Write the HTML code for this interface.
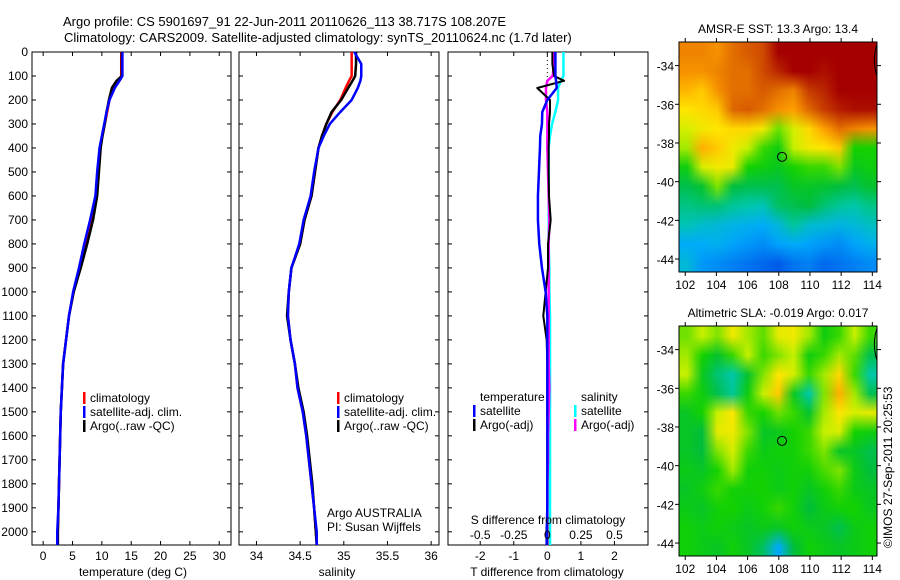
<!DOCTYPE html>
<html><head><meta charset="utf-8">
<style>
html,body{margin:0;padding:0;background:#fff;}
#wrap{position:relative;width:900px;height:580px;overflow:hidden;font-family:"Liberation Sans",sans-serif;}
svg{position:absolute;left:0;top:0;}
canvas{position:absolute;image-rendering:auto;}
text{font-family:"Liberation Sans",sans-serif;font-size:12px;fill:#000;}
</style></head>
<body>
<div id="wrap">
<canvas id="sstMap" width="13" height="12" style="left:679px;top:42px;width:198px;height:230px"></canvas>
<canvas id="slaMap" width="13" height="12" style="left:679px;top:326px;width:198px;height:230px"></canvas>
<svg id="fig" width="900" height="580"></svg>
</div>
<script>
// ---------- data ----------
const depths = [0,50,100,120,150,200,250,300,350,400,500,600,700,800,900,1000,1100,1200,1300,1400,1500,1600,1700,1800,1900,2000,2055];
const tempClim = [13.3,13.3,13.3,12.8,12.0,11.3,10.9,10.5,10.1,9.7,9.4,9.1,8.3,7.3,6.3,5.2,4.4,3.9,3.4,3.2,3.0,2.9,2.8,2.7,2.6,2.5,2.5];
const tempSat  = [13.5,13.5,13.5,13.0,12.2,11.3,10.8,10.4,10.0,9.6,9.2,8.9,8.0,7.0,6.1,5.1,4.4,3.9,3.4,3.2,3.0,2.9,2.8,2.7,2.6,2.4,2.4];
const tempArgo = [13.4,13.4,13.4,12.5,11.7,11.2,10.8,10.5,10.1,9.8,9.5,9.2,8.5,7.5,6.4,5.2,4.4,3.9,3.4,3.2,3.0,2.9,2.8,2.7,2.6,2.5,2.5];
const salClim = [35.09,35.09,35.09,35.06,35.02,34.96,34.87,34.80,34.75,34.71,34.67,34.63,34.55,34.50,34.40,34.37,34.36,34.39,34.44,34.47,34.53,34.57,34.60,34.63,34.66,34.68,34.69];
const salSat  = [35.12,35.20,35.20,35.19,35.16,35.09,34.96,34.84,34.77,34.71,34.66,34.62,34.54,34.49,34.40,34.37,34.36,34.39,34.44,34.47,34.53,34.57,34.60,34.63,34.66,34.69,34.69];
const salArgo = [35.14,35.14,35.13,35.10,35.05,34.97,34.86,34.80,34.75,34.71,34.67,34.63,34.55,34.50,34.40,34.37,34.35,34.39,34.44,34.48,34.54,34.58,34.61,34.64,34.66,34.68,34.69];
const dTSat  = [0.24,0.24,0.24,0.26,0.28,0.0,-0.15,-0.16,-0.21,-0.22,-0.25,-0.28,-0.28,-0.24,-0.16,-0.05,0,0,0,0,0,0,0,0,0,-0.02,-0.02];
const dTArgo = [0.15,0.15,0.2,0.5,-0.3,0.08,0.08,0.05,0.05,0.04,0.04,0.05,0.1,0.02,0.02,-0.05,-0.12,-0.02,0,0,0,0,0,0,0,0,0];
const dSSat  = [0.12,0.12,0.12,0.10,0.08,0.08,0.06,0.035,0.02,0.01,0.01,0.01,0.01,0.01,0.015,0.015,0.02,0.02,0.02,0.02,0.02,0.02,0.02,0.02,0.02,0.02,0.02];
const dSArgo = [0.05,0.05,0.04,0.0,-0.01,-0.01,0,0,0,0,0.005,0.01,0.015,0.01,0.01,0.01,0.01,0.01,0.01,0.015,0.01,0.005,0.005,0,0,0,0];
const depthTicks = [0,100,200,300,400,500,600,700,800,900,1000,1100,1200,1300,1400,1500,1600,1700,1800,1900,2000];
const tempTicks = [0,5,10,15,20,25,30];
const salTicks = [34,34.5,35,35.5,36];
const salTickLabels = ["34","34.5","35","35.5","36"];
const dTTicks = [-2,-1,0,1,2];
const dSTicks = [-0.5,-0.25,0,0.25,0.5];
const dSTickLabels = ["-0.5","-0.25","0","0.25","0.5"];
const lonTicks = [102,104,106,108,110,112,114];
const latTicks = [-34,-36,-38,-40,-42,-44];
const argoLon = 108.207, argoLat = -38.717;
const sstGrid = [
[.82,.82,.80,.85,.88,.90,1,1,1,1,1,1,1],
[.80,.80,.82,.85,.85,.90,.95,1,1,.98,1,1,1],
[.75,.72,.80,.85,.85,.88,.85,.82,.92,.95,1,1,1],
[.68,.70,.72,.86,.88,.85,.80,.78,.86,.92,.96,.98,.98],
[.62,.66,.68,.70,.70,.66,.55,.62,.70,.78,.85,.82,.80],
[.58,.76,.72,.66,.60,.52,.48,.60,.66,.68,.72,.50,.50],
[.48,.62,.66,.65,.50,.48,.46,.50,.52,.52,.56,.46,.48],
[.40,.44,.56,.42,.40,.40,.40,.45,.45,.44,.42,.40,.44],
[.34,.36,.36,.32,.30,.28,.38,.40,.42,.36,.32,.30,.34],
[.28,.24,.22,.20,.18,.16,.22,.32,.24,.22,.20,.22,.26],
[.16,.16,.18,.14,.12,.10,.14,.16,.14,.12,.10,.14,.18],
[.22,.12,.10,.08,.06,.04,.02,.06,.08,.04,.06,.08,.10]];
const slaGrid = [
[.55,.60,.56,.66,.58,.54,.64,.66,.58,.48,.52,.60,.52],
[.58,.50,.44,.52,.60,.52,.56,.60,.48,.52,.58,.54,.40],
[.60,.46,.36,.30,.44,.56,.68,.62,.52,.58,.70,.52,.30],
[.52,.48,.40,.32,.48,.60,.72,.46,.30,.56,.76,.58,.40],
[.45,.50,.60,.68,.52,.50,.55,.52,.44,.58,.68,.62,.64],
[.45,.42,.64,.66,.56,.45,.46,.50,.52,.60,.62,.50,.48],
[.45,.42,.56,.62,.52,.47,.49,.49,.52,.56,.45,.45,.40],
[.47,.45,.50,.58,.49,.49,.47,.49,.49,.53,.56,.47,.42],
[.45,.48,.52,.49,.49,.50,.47,.49,.45,.49,.52,.47,.45],
[.47,.45,.49,.50,.47,.49,.52,.49,.42,.47,.49,.50,.46],
[.49,.47,.49,.47,.45,.47,.45,.49,.47,.45,.40,.47,.49],
[.49,.47,.45,.49,.45,.38,.15,.42,.49,.47,.45,.47,.49]];

// ---------- helpers ----------
const NS="http://www.w3.org/2000/svg";
const svg=document.getElementById('fig');
function el(tag,attrs,parent){const e=document.createElementNS(NS,tag);for(const k in attrs)e.setAttribute(k,attrs[k]);(parent||svg).appendChild(e);return e;}
function txt(x,y,s,anchor,size,name){const t=el('text',{x:x,y:y,'text-anchor':anchor||'start'});if(size)t.style.fontSize=size+'px';t.textContent=s;


return t;}
const Y0=52, Y1=545, DMAX=2055;
const yD=d=>Y0+(d/DMAX)*(Y1-Y0);
function xScale(l,r,vmin,vmax){return v=>l+(v-vmin)/(vmax-vmin)*(r-l);}

function panel(l,r,name){
  const g=el('g',{});
  
  
  el('rect',{x:l,y:Y0,width:r-l,height:Y1-Y0,fill:'none',stroke:'#000','stroke-width':1},g);
  depthTicks.forEach(d=>{const y=yD(d);
    el('line',{x1:l,x2:l+4,y1:y,y2:y,stroke:'#000'},g);
    el('line',{x1:r-4,x2:r,y1:y,y2:y,stroke:'#000'},g);});
  return g;
}
function xticks(g,l,r,sx,ticks){ticks.forEach(v=>{const x=sx(v);
  el('line',{x1:x,x2:x,y1:Y1,y2:Y1-4,stroke:'#000'},g);
  el('line',{x1:x,x2:x,y1:Y0,y2:Y0+4,stroke:'#000'},g);});}
function prof(g,vals,sx,color,w,name){
  const pts=depths.map((d,i)=>sx(vals[i])+','+yD(d));
  const p=el('polyline',{points:pts.join(' '),fill:'none',stroke:color,'stroke-width':w||2.5,'stroke-linejoin':'round'},g);
  
  
}

// titles
txt(63,26,'Argo profile: CS 5901697_91 22-Jun-2011 20110626_113 38.717S 108.207E','start',13,'title-line-1');
txt(64,42,'Climatology: CARS2009. Satellite-adjusted climatology: synTS_20110624.nc (1.7d later)','start',13,'title-line-2');

depthTicks.forEach(d=>txt(28,yD(d)+4,String(d),'end',12,'depth-tick-label'));

// panel 1 temperature
const sT=xScale(32,231,-1.9,32);
const g1=panel(32,231,'temperature-panel');
xticks(g1,32,231,sT,tempTicks);
tempTicks.forEach(v=>txt(sT(v),560,String(v),'middle',12,'temp-tick-label'));
txt(133,576,'temperature (deg C)','middle',12,'temp-axis-title');
prof(g1,tempClim,sT,'#f00',2.5,'temp-climatology-line');
prof(g1,tempArgo,sT,'#000',2.5,'temp-argo-line');
prof(g1,tempSat,sT,'#00f',2.5,'temp-satellite-line');

// panel 2 salinity
const sS=xScale(239,439,33.8,36.09);
const g2=panel(239,439,'salinity-panel');
xticks(g2,239,439,sS,salTicks);
salTicks.forEach((v,i)=>txt(sS(v),560,salTickLabels[i],'middle',12,'sal-tick-label'));
txt(337,576,'salinity','middle',12,'sal-axis-title');
prof(g2,salClim,sS,'#f00',2.5,'sal-climatology-line');
prof(g2,salArgo,sS,'#000',2.5,'sal-argo-line');
prof(g2,salSat,sS,'#00f',2.5,'sal-satellite-line');
txt(327,517,'Argo AUSTRALIA','start',12,'institution-label');
txt(327,531,'PI: Susan Wijffels','start',12,'pi-label');

function legend(x,y,items,name){
  const g=el('g',{});
  
  
  items.forEach((it,i)=>{const yy=y+i*14;
    if(it[0])el('rect',{x:x,y:yy-10,width:2.5,height:12,fill:it[0]},g);
    const t=txt(x+7,yy,it[1],'start',12,'legend-entry');g.appendChild(t);});
}
legend(83,402,[['#f00','climatology'],['#00f','satellite-adj. clim.'],['#000','Argo(..raw -QC)']],'temp-legend');
legend(337,402,[['#f00','climatology'],['#00f','satellite-adj. clim.'],['#000','Argo(..raw -QC)']],'sal-legend');

// panel 3 differences
const sD=xScale(448,648,-2.96,3.0);
const sDS=v=>sD(v*4);
const g3=panel(448,648,'difference-panel');
xticks(g3,448,648,sD,dTTicks);
dTTicks.forEach(v=>txt(sD(v),560,String(v),'middle',12,'dt-tick-label'));
dSTicks.forEach((v,i)=>txt(sDS(v),539,dSTickLabels[i],'middle',12,'ds-tick-label'));
txt(548,524,'S difference from climatology','middle',12,'ds-axis-title');
txt(547,576,'T difference from climatology','middle',12,'dt-axis-title');
el('line',{x1:sD(0),x2:sD(0),y1:Y0,y2:yD(150),stroke:'#000','stroke-dasharray':'1,3'},g3);
prof(g3,dSSat,sDS,'#0ff',2.5,'ds-satellite-line');
prof(g3,dSArgo,sDS,'#f0f',2.5,'ds-argo-line');
prof(g3,dTArgo,sD,'#000',2,'dt-argo-line');
prof(g3,dTSat,sD,'#00f',2.5,'dt-satellite-line');
legend(473,401,[[null,'temperature'],['#00f','satellite'],['#000','Argo(-adj)']],'dt-legend');
legend(574,401,[[null,'salinity'],['#0ff','satellite'],['#f0f','Argo(-adj)']],'ds-legend');

// ---------- maps ----------
const cmap=[[0,[0,80,230]],[0.15,[0,170,255]],[0.3,[0,200,170]],[0.42,[0,190,60]],[0.5,[20,210,0]],[0.6,[200,240,0]],[0.68,[255,230,0]],[0.78,[255,160,0]],[0.88,[215,90,0]],[1,[165,0,0]]];
function color(v){for(let i=1;i<cmap.length;i++){if(v<=cmap[i][0]){const a=cmap[i-1],b=cmap[i],t=(v-a[0])/(b[0]-a[0]);return a[1].map((c,k)=>Math.round(c+(b[1][k]-c)*t));}}return cmap[cmap.length-1][1];}
function paint(id,grid){const c=document.getElementById(id),ctx=c.getContext('2d');const im=ctx.createImageData(13,12);
  grid.forEach((row,r)=>row.forEach((v,cI)=>{const col=color(v),o=(r*13+cI)*4;im.data[o]=col[0];im.data[o+1]=col[1];im.data[o+2]=col[2];im.data[o+3]=255;}));ctx.putImageData(im,0,0);}
paint('sstMap',sstGrid);paint('slaMap',slaGrid);

function mapFrame(top,bot,title,name){
  const l=679,r=877;
  const sx=xScale(l,r,101.6,114.3);
  const sy=v=>top+(-32.78-v)/(-32.78+44.67)*(bot-top);
  const g=el('g',{});
  
  
  el('rect',{x:l,y:top,width:r-l,height:bot-top,fill:'none',stroke:'#000'},g);
  lonTicks.forEach(v=>{const x=sx(v);el('line',{x1:x,x2:x,y1:top,y2:top-4,stroke:'#000'},g);el('line',{x1:x,x2:x,y1:bot,y2:bot+4,stroke:'#000'},g);
    txt(x,bot+17,String(v),'middle',12,'lon-tick-label');});
  latTicks.forEach(v=>{const y=sy(v);el('line',{x1:l,x2:l-4,y1:y,y2:y,stroke:'#000'},g);el('line',{x1:r,x2:r+4,y1:y,y2:y,stroke:'#000'},g);
    txt(674,y+5,String(v),'end',12,'lat-tick-label');});
  txt(778,top-9,title,'middle',12,'map-title');
  const c=el('circle',{cx:sx(argoLon),cy:sy(argoLat),r:4.5,fill:'none',stroke:'#000','stroke-width':1},g);
  
  
  el('path',{d:`M${r} ${top+2} q-4 12 -2 24 q1 6 2 8`,fill:'none',stroke:'#000','stroke-width':1},g);
}
mapFrame(42,272,'AMSR-E SST: 13.3 Argo: 13.4','sst-map');
mapFrame(326,556,'Altimetric SLA: -0.019 Argo: 0.017','sla-map');

const cr=txt(0,0,'©IMOS 27-Sep-2011 20:25:53','start',12,'copyright-stamp');
cr.setAttribute('transform','translate(892,548) rotate(-90)');
</script>
</body></html>
